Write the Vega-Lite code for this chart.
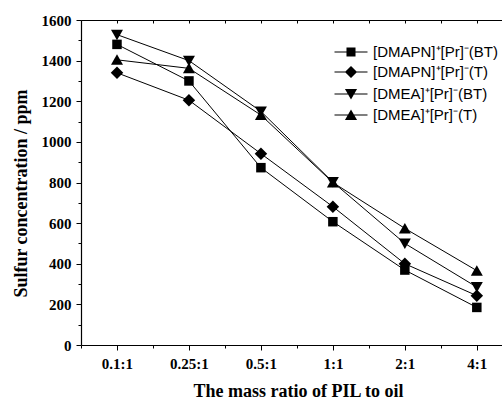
{
  "$schema": "https://vega.github.io/schema/vega-lite/v6.json",
  "width": 421,
  "height": 325,
  "autosize": "none",
  "padding": {"left": 81, "top": 20, "right": 0, "bottom": 55},
  "background": "white",
  "config": {
    "view": {"stroke": null},
    "axis": {
      "grid": false,
      "domainColor": "black",
      "domainWidth": 1.2,
      "tickColor": "black",
      "tickWidth": 1,
      "labelFont": "Liberation Serif",
      "labelFontWeight": "bold",
      "labelFontSize": 15,
      "labelColor": "black",
      "titleFont": "Liberation Serif",
      "titleFontWeight": "bold",
      "titleFontSize": 18,
      "titleColor": "black"
    }
  },
  "data": {
    "values": [
      {"idx": 0, "ratio": "0.1:1", "series": "[DMAPN]⁺[Pr]⁻(BT)", "value": 1480},
      {"idx": 1, "ratio": "0.25:1", "series": "[DMAPN]⁺[Pr]⁻(BT)", "value": 1300},
      {"idx": 2, "ratio": "0.5:1", "series": "[DMAPN]⁺[Pr]⁻(BT)", "value": 873},
      {"idx": 3, "ratio": "1:1", "series": "[DMAPN]⁺[Pr]⁻(BT)", "value": 607},
      {"idx": 4, "ratio": "2:1", "series": "[DMAPN]⁺[Pr]⁻(BT)", "value": 369},
      {"idx": 5, "ratio": "4:1", "series": "[DMAPN]⁺[Pr]⁻(BT)", "value": 185},
      {"idx": 0, "ratio": "0.1:1", "series": "[DMAPN]⁺[Pr]⁻(T)", "value": 1340},
      {"idx": 1, "ratio": "0.25:1", "series": "[DMAPN]⁺[Pr]⁻(T)", "value": 1205},
      {"idx": 2, "ratio": "0.5:1", "series": "[DMAPN]⁺[Pr]⁻(T)", "value": 942},
      {"idx": 3, "ratio": "1:1", "series": "[DMAPN]⁺[Pr]⁻(T)", "value": 681},
      {"idx": 4, "ratio": "2:1", "series": "[DMAPN]⁺[Pr]⁻(T)", "value": 400},
      {"idx": 5, "ratio": "4:1", "series": "[DMAPN]⁺[Pr]⁻(T)", "value": 243},
      {"idx": 0, "ratio": "0.1:1", "series": "[DMEA]⁺[Pr]⁻(BT)", "value": 1528},
      {"idx": 1, "ratio": "0.25:1", "series": "[DMEA]⁺[Pr]⁻(BT)", "value": 1400},
      {"idx": 2, "ratio": "0.5:1", "series": "[DMEA]⁺[Pr]⁻(BT)", "value": 1150},
      {"idx": 3, "ratio": "1:1", "series": "[DMEA]⁺[Pr]⁻(BT)", "value": 802},
      {"idx": 4, "ratio": "2:1", "series": "[DMEA]⁺[Pr]⁻(BT)", "value": 500},
      {"idx": 5, "ratio": "4:1", "series": "[DMEA]⁺[Pr]⁻(BT)", "value": 285},
      {"idx": 0, "ratio": "0.1:1", "series": "[DMEA]⁺[Pr]⁻(T)", "value": 1404},
      {"idx": 1, "ratio": "0.25:1", "series": "[DMEA]⁺[Pr]⁻(T)", "value": 1362},
      {"idx": 2, "ratio": "0.5:1", "series": "[DMEA]⁺[Pr]⁻(T)", "value": 1132},
      {"idx": 3, "ratio": "1:1", "series": "[DMEA]⁺[Pr]⁻(T)", "value": 800},
      {"idx": 4, "ratio": "2:1", "series": "[DMEA]⁺[Pr]⁻(T)", "value": 574},
      {"idx": 5, "ratio": "4:1", "series": "[DMEA]⁺[Pr]⁻(T)", "value": 366}
    ]
  },
  "layer": [
    {
      "mark": {"type": "line", "color": "black", "strokeWidth": 1},
      "encoding": {
        "x": {
          "field": "idx", "type": "quantitative",
          "scale": {"domain": [-0.5, 5.35], "nice": false, "zero": false},
          "axis": {
            "orient": "bottom",
            "values": [0, 1, 2, 3, 4, 5],
            "labelExpr": "['0.1:1','0.25:1','0.5:1','1:1','2:1','4:1'][datum.value]",
            "labelAngle": 0,
            "tickSize": 5,
            "labelPadding": 6,
            "title": "The mass ratio of PIL to oil",
            "titlePadding": 11,
            "titleX": 217
          }
        },
        "y": {
          "field": "value", "type": "quantitative",
          "scale": {"domain": [0, 1600], "nice": false},
          "axis": {
            "orient": "left",
            "values": [0, 200, 400, 600, 800, 1000, 1200, 1400, 1600],
            "format": "d",
            "tickSize": 5,
            "labelPadding": 5,
            "title": "Sulfur concentration / ppm",
            "titlePadding": 11,
            "titleY": 173
          }
        },
        "detail": {"field": "series"}
      }
    },
    {
      "mark": {"type": "point", "filled": true, "color": "black", "opacity": 1, "size": 100, "strokeWidth": 0},
      "encoding": {
        "x": {
          "field": "idx", "type": "quantitative",
          "axis": {
            "orient": "bottom",
            "values": [-0.5, 0.5, 1.5, 2.5, 3.5, 4.5],
            "labels": false,
            "domain": false,
            "tickSize": 3,
            "title": null
          }
        },
        "y": {
          "field": "value", "type": "quantitative",
          "axis": {
            "orient": "left",
            "values": [100, 300, 500, 700, 900, 1100, 1300, 1500],
            "labels": false,
            "domain": false,
            "tickSize": 3,
            "title": null
          }
        },
        "shape": {
          "field": "series", "type": "nominal",
          "scale": {
            "domain": ["[DMAPN]⁺[Pr]⁻(BT)", "[DMAPN]⁺[Pr]⁻(T)", "[DMEA]⁺[Pr]⁻(BT)", "[DMEA]⁺[Pr]⁻(T)"],
            "range": ["M-0.95,-0.95L0.95,-0.95L0.95,0.95L-0.95,0.95Z", "M0,-1.25L1.25,0L0,1.25L-1.25,0Z", "M-1.2,-1L1.2,-1L0,1.1Z", "M0,-1.1L1.2,1L-1.2,1Z"]
          },
          "legend": null
        }
      }
    },
    {
      "mark": {"type": "point", "filled": true, "color": "black", "size": 0, "opacity": 1},
      "encoding": {
        "x": {
          "field": "idx", "type": "quantitative",
          "axis": {
            "orient": "top",
            "values": [-0.5, 0, 0.5, 1, 1.5, 2, 2.5, 3, 3.5, 4, 4.5, 5],
            "labels": false,
            "tickSize": -3,
            "title": null
          }
        },
        "y": {"field": "value", "type": "quantitative", "axis": null},
        "shape": {
          "field": "series", "type": "nominal",
          "scale": {
            "domain": ["[DMAPN]⁺[Pr]⁻(BT)", "[DMAPN]⁺[Pr]⁻(T)", "[DMEA]⁺[Pr]⁻(BT)", "[DMEA]⁺[Pr]⁻(T)"],
            "range": [
              "M-1.5,-0.05L1.5,-0.05L1.5,0.05L-1.5,0.05ZM-0.41,-0.41L0.41,-0.41L0.41,0.41L-0.41,0.41Z",
              "M-1.5,-0.05L1.5,-0.05L1.5,0.05L-1.5,0.05ZM0,-0.55L0.55,0L0,0.55L-0.55,0Z",
              "M-1.5,-0.05L1.5,-0.05L1.5,0.05L-1.5,0.05ZM-0.55,-0.45L0.55,-0.45L0,0.5Z",
              "M-1.5,-0.05L1.5,-0.05L1.5,0.05L-1.5,0.05ZM0,-0.5L0.55,0.45L-0.55,0.45Z"
            ]
          },
          "legend": {
            "orient": "none",
            "legendX": 258,
            "legendY": 20,
            "title": null,
            "padding": 0,
            "rowPadding": 0,
            "symbolSize": 484,
            "symbolFillColor": "black",
            "symbolOpacity": 1,
            "labelOffset": 10,
            "labelFont": "Liberation Sans",
            "labelFontSize": 15,
            "labelColor": "black"
          }
        }
      }
    }
  ],
  "resolve": {
    "axis": {"x": "independent", "y": "independent"},
    "scale": {"shape": "independent"}
  }
}
